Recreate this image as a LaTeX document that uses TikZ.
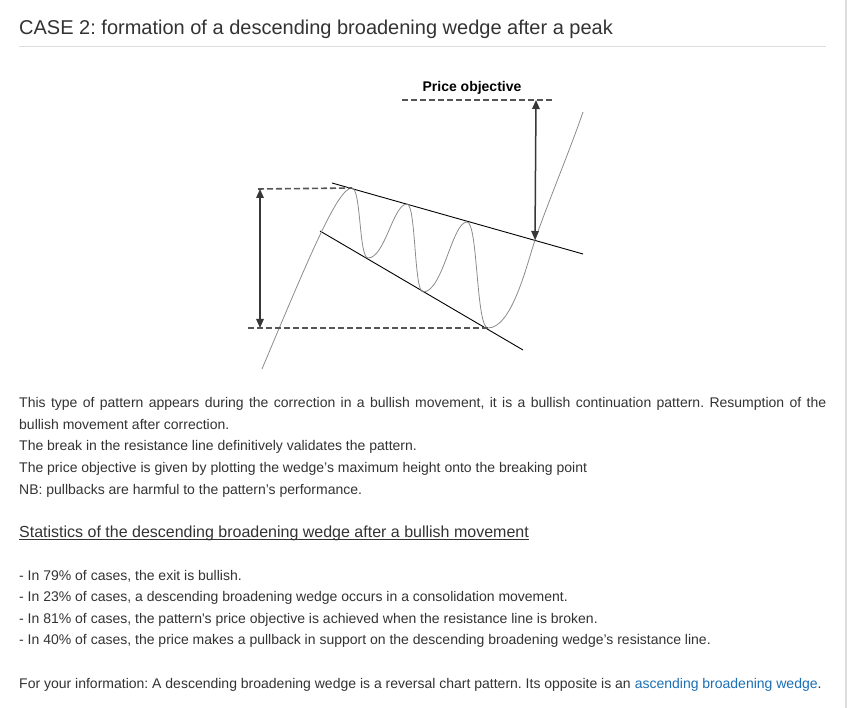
\documentclass[tikz,border=0pt]{standalone}
\usepackage{fontspec}
\setmainfont{Liberation Sans}
\usetikzlibrary{arrows.meta,calc,positioning}
\definecolor{TextGray}{RGB}{51,51,51}
\definecolor{RuleGray}{RGB}{221,221,221}
\definecolor{CurveGray}{RGB}{140,140,140}
\definecolor{DashGray}{RGB}{85,85,85}
\definecolor{ArrowGray}{RGB}{55,55,55}
\definecolor{LinkBlue}{RGB}{26,111,181}
\frenchspacing

\begin{document}
\begin{tikzpicture}[x=1pt,y=-1pt,
  txt/.style={anchor=base west,inner sep=0pt,text=TextGray,font=\fontsize{14}{17}\selectfont},
  dashline/.style={DashGray,dash pattern=on 6pt off 3pt,line width=1.6pt},
  measure/.style={ArrowGray,line width=1.5pt,{Triangle[length=9pt,width=7.5pt]}-{Triangle[length=9pt,width=7.5pt]}},
  wedgeline/.style={black,line width=.9pt},
  price/.style={CurveGray,line width=.8pt}]
\useasboundingbox[fill=white] (0,0) rectangle (849,708);
\draw[RuleGray,line width=2pt] (846,0) -- (846,708);
% title
\node[txt,font=\fontsize{20}{25}\selectfont] (title) at (19,35){CASE 2: formation of a descending broadening wedge after a peak};
\draw[RuleGray,line width=1pt] (19,47) -- (826,47);
% chart points
\coordinate (start) at (262,369);
\coordinate (peakA) at (352,188);\coordinate (troughA) at (368,258);
\coordinate (peakB) at (407,204);\coordinate (troughB) at (423,292);
\coordinate (peakC) at (467,222);\coordinate (troughC) at (488,328);
\coordinate (breakpt) at (535,240);\coordinate (finish) at (583,112);
\coordinate (resA) at (332,183);\coordinate (resB) at (583,254);
\coordinate (supA) at (320,231);\coordinate (supB) at (523,350);
\coordinate (hiL) at (258,189);\coordinate (loL) at (248,328);
\coordinate (objL) at (402,100);\coordinate (objR) at (554,100);
\coordinate (armL) at (260,189);\coordinate (armLb) at (260,328);
\coordinate (armR) at (536,100);
% wedge
\draw[wedgeline] (resA) -- (resB);
\draw[wedgeline] (supA) -- (supB);
% price curve
\draw[price] (start) .. controls (312,250) and (338,188) .. (peakA)
  .. controls (361,188) and (359,258) .. (troughA)
  .. controls (385,258) and (393,204) .. (peakB)
  .. controls (416,204) and (414,292) .. (troughB)
  .. controls (443,292) and (452,222) .. (peakC)
  .. controls (478,222) and (476,328) .. (troughC)
  .. controls (512,328) and (527,264) .. (breakpt)
  .. controls (547,205) and (570,150) .. (finish);
% heights
\draw[dashline] (hiL) -- (peakA);
\draw[dashline] (loL) -- (troughC);
\draw[dashline] (objL) -- (objR);
\draw[measure] (armL) -- (armLb);
\draw[measure] (armR) -- (breakpt);
\node[anchor=base,inner sep=0pt,font=\fontsize{14}{17}\selectfont\bfseries] (objective) at (472,92){Price objective};
% text
\node[txt] (paraA) at (19,408){\makebox[807pt][s]{This type of pattern appears during the correction in a bullish movement, it is a bullish continuation pattern. Resumption of the}};
\node[txt] (paraB) at (19,429.5){bullish movement after correction.};
\node[txt] (paraC) at (19,451){The break in the resistance line definitively validates the pattern.};
\node[txt] (paraD) at (19,472.5){The price objective is given by plotting the wedge’s maximum height onto the breaking point};
\node[txt] (paraE) at (19,494){NB: pullbacks are harmful to the pattern’s performance.};
\node[txt,font=\fontsize{16}{19}\selectfont] (stats) at (19,537){Statistics of the descending broadening wedge after a bullish movement};
\draw[TextGray,line width=1pt] ($(stats.base west)+(0,2.5)$) -- ($(stats.base east)+(0,2.5)$);
\node[txt] (itemA) at (19,580){- In 79\% of cases, the exit is bullish.};
\node[txt] (itemB) at (19,601.5){- In 23\% of cases, a descending broadening wedge occurs in a consolidation movement.};
\node[txt] (itemC) at (19,623){- In 81\% of cases, the pattern\textquotesingle s price objective is achieved when the resistance line is broken.};
\node[txt] (itemD) at (19,644.5){- In 40\% of cases, the price makes a pullback in support on the descending broadening wedge’s resistance line.};
\node[txt] (info) at (19,688){For your information: A descending broadening wedge is a reversal chart pattern. Its opposite is an \textcolor{LinkBlue}{ascending broadening wedge}.};
\end{tikzpicture}
\end{document}
